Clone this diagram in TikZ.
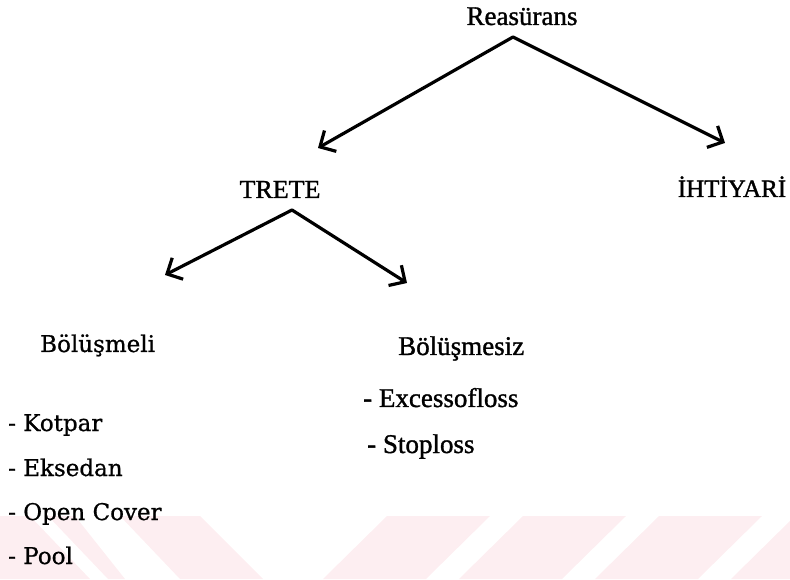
\documentclass[tikz,border=0pt]{standalone}
\usepackage{fontspec}
\setmainfont{Liberation Serif}[FakeBold=1.2]
\newfontfamily\slabfont{DejaVu Serif}[FakeBold=0.8]
\usetikzlibrary{arrows.meta, calc, positioning}
\definecolor{wmPink}{HTML}{FDEEF1}
\tikzset{
    topText/.style={inner sep=0pt, anchor=base, font=\fontsize{27}{30}\selectfont},
    leftText/.style={inner sep=0pt, anchor=base west, font=\slabfont\fontsize{23}{26}\selectfont},
    rightText/.style={inner sep=0pt, anchor=base west, font=\fontsize{27}{30}\selectfont},
    treeArrow/.style={-{Straight Barb[length=12pt, width=24pt, line width=3.2pt]}, line width=3.2pt, line cap=round, line join=round},
    wmBand/.style={fill=wmPink, draw=none},
}
\newcommand{\drawFork}[3]{
    \draw[treeArrow] (#1) -- (#2);
    \draw[treeArrow] (#1) -- (#3);
}

\begin{document}
\begin{tikzpicture}[x=1pt, y=1pt]
    \useasboundingbox (0,0) rectangle (790,579);

    % watermark bands
    \foreach \b in {323,459,595,731} {
        \fill[wmBand] (\b,0) -- (\b+103,0) -- (\b+167,63) -- (\b+64,63) -- cycle;
    }
    \fill[wmBand] (180,0) -- (263,0) -- (200,63) -- (120,63) -- cycle;
    \fill[wmBand] (108,0) -- (125,0) -- (75,63) -- (48,63) -- cycle;
    \fill[wmBand] (0,0) -- (90,0) -- (30,63) -- (0,63) -- cycle;

    % 1. Reasurans
    \node[topText] (reas) at (522,554) {Reasürans};
    \coordinate (reasApex) at (513,542);
    \coordinate (reasLeftTip) at (318,431);
    \coordinate (reasRightTip) at (725,436);
    \drawFork{reasApex}{reasLeftTip}{reasRightTip}

    % 2. Trete / Ihtiyari
    \node[topText, font=\fontsize{26}{30}\selectfont] (trete) at (280,381) {TRETE};
    \node[topText, font=\fontsize{25}{30}\selectfont] (ihti) at (732,382) {İHTİYARİ};
    \coordinate (treteApex) at (292,369);
    \coordinate (treteLeftTip) at (165,304);
    \coordinate (treteRightTip) at (407,296);
    \drawFork{treteApex}{treteLeftTip}{treteRightTip}

    % 3. Bolusmeli
    \node[leftText] (bolm) at (40,227) {Bölüşmeli};
    \node[leftText] (kotpar) at (8,148) {- Kotpar};
    \node[leftText] (eksedan) at (8,103) {- Eksedan};
    \node[leftText] (opencov) at (8,59) {- Open Cover};
    \node[leftText] (pool) at (8,15) {- Pool};

    % 4. Bolusmesiz
    \node[rightText] (bolz) at (398,224) {Bölüşmesiz};
    \node[rightText] (excess) at (363,172) {- Excessofloss};
    \node[rightText] (stop) at (367,126) {- Stoploss};

\end{tikzpicture}
\end{document}
